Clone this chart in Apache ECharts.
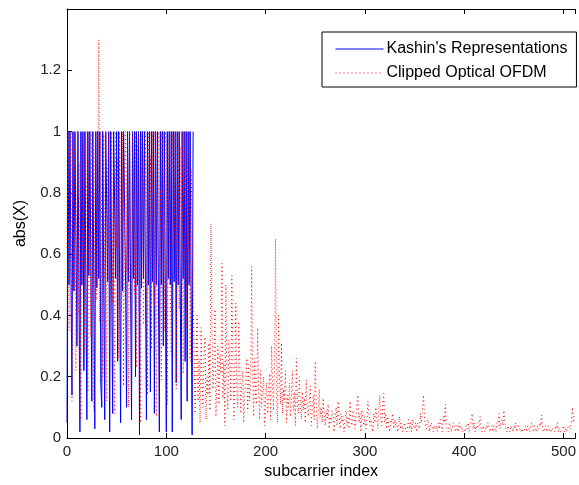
<!DOCTYPE html>
<html>
<head>
<meta charset="utf-8">
<script src="https://cdn.jsdelivr.net/npm/echarts@6/dist/echarts.min.js"></script>
<style>
html,body{margin:0;padding:0;background:#fff;overflow:hidden;}
#c{width:579px;height:485px;}
</style>
</head>
<body>
<div id="c"></div>
<script>
const seriesNames = ["Kashin's Representations", "Clipped Optical OFDM"];
const xTicks = [0, 100, 200, 300, 400, 500];
const yTicks = [0, 0.2, 0.4, 0.6, 0.8, 1, 1.2];

const kashin = [
0.05,1.00,0.50,1.00,0.52,0.14,1.00,0.48,1.00,1.00,0.30,1.00,0.51,0.02,1.00,0.50,
1.00,0.22,1.00,0.50,0.06,1.00,0.53,1.00,1.00,0.12,1.00,0.50,0.03,1.00,0.49,1.00,
0.52,1.00,0.18,0.10,1.00,0.50,0.06,1.00,1.00,0.51,1.00,0.02,1.00,0.50,0.08,1.00,
1.00,0.52,1.00,0.25,1.00,0.50,0.05,1.00,0.48,1.00,1.00,0.50,0.10,1.00,0.51,1.00,
0.50,0.06,1.00,0.52,1.00,0.20,1.00,0.50,1.00,0.01,1.00,0.49,1.00,0.52,1.00,0.50,
0.06,1.00,0.50,1.00,0.15,1.00,0.51,1.00,0.08,1.00,0.50,1.00,0.52,0.02,1.00,0.50,
1.00,0.30,1.00,0.50,0.02,1.00,0.52,1.00,0.50,1.00,0.02,1.00,0.51,1.00,0.18,1.00,
0.50,1.00,0.50,0.06,1.00,0.52,1.00,0.25,1.00,0.12,1.00,0.50,1.00,0.48,0.01,1.00
];

const clippedHead = [
0.62,1.00,0.35,0.88,1.00,0.12,0.95,0.48,1.00,0.22,0.78,1.00,0.40,0.90,0.06,1.00,
0.55,0.97,0.28,1.00,0.70,0.15,1.00,0.84,0.33,1.00,0.58,0.09,0.93,1.00,0.45,0.80,
1.30,0.38,1.00,0.66,0.20,0.99,0.52,1.00,0.12,0.87,1.00,0.30,0.74,1.00,0.44,0.95,
0.08,1.00,0.62,0.91,0.26,1.00,0.79,0.41,1.00,0.17,0.86,1.00,0.54,0.98,0.10,1.00,
0.68,0.32,1.00,0.89,0.47,1.00,0.23,0.94,1.00,0.60,0.05,1.00,0.83,0.37,0.97,1.00,
0.50,0.14,1.00,0.76,0.92,0.29,1.00,0.65,0.43,1.00,0.07,0.88,1.00,0.56,0.81,0.19,
1.00,0.72,0.35,1.00,0.96,0.11,0.85,1.00,0.48,0.27,1.00,0.90,0.63,1.00,0.16,0.82,
1.00,0.42,0.95,0.58,1.00,0.21,0.77,1.00,0.36,0.93,0.60,1.00,0.25,0.88,0.70,0.45
];

const clippedTail = [
0.30,0.08,0.22,0.40,0.12,0.26,0.05,0.36,0.18,0.10,0.28,0.33,0.06,0.20,0.14,0.31,
0.09,0.70,0.35,0.16,0.24,0.42,0.07,0.19,0.30,0.11,0.27,0.21,0.57,0.13,0.25,0.04,
0.50,0.18,0.09,0.32,0.23,0.12,0.53,0.28,0.06,0.20,0.44,0.15,0.10,0.38,0.24,0.08,
0.17,0.22,0.05,0.14,0.19,0.26,0.09,0.24,0.12,0.18,0.56,0.21,0.07,0.26,0.13,0.11,
0.36,0.16,0.06,0.22,0.10,0.15,0.20,0.04,0.12,0.18,0.08,0.14,0.21,0.06,0.30,0.17,
0.09,0.25,0.65,0.13,0.05,0.40,0.19,0.11,0.31,0.08,0.16,0.12,0.22,0.05,0.14,0.10,
0.18,0.07,0.13,0.22,0.09,0.15,0.04,0.26,0.12,0.08,0.20,0.11,0.06,0.15,0.09,0.13,
0.05,0.19,0.10,0.07,0.12,0.17,0.04,0.09,0.14,0.06,0.25,0.11,0.03,0.08,0.16,0.07,
0.10,0.05,0.13,0.08,0.04,0.09,0.06,0.11,0.03,0.07,0.05,0.09,0.08,0.02,0.06,0.10,
0.04,0.12,0.07,0.03,0.08,0.05,0.07,0.02,0.06,0.09,0.04,0.07,0.03,0.12,0.06,0.04,
0.09,0.08,0.03,0.06,0.11,0.14,0.05,0.08,0.02,0.09,0.06,0.04,0.07,0.03,0.05,0.12,
0.08,0.04,0.06,0.06,0.02,0.08,0.05,0.10,0.07,0.03,0.09,0.14,0.06,0.04,0.11,0.145,
0.05,0.08,0.03,0.07,0.04,0.02,0.06,0.05,0.08,0.03,0.06,0.04,0.05,0.02,0.04,0.07,
0.03,0.05,0.02,0.04,0.05,0.03,0.02,0.04,0.06,0.03,0.05,0.02,0.06,0.04,0.03,0.05,
0.02,0.05,0.04,0.03,0.08,0.05,0.10,0.14,0.07,0.04,0.03,0.06,0.05,0.02,0.04,0.05,
0.03,0.02,0.04,0.03,0.04,0.02,0.05,0.03,0.06,0.04,0.02,0.07,0.05,0.11,0.04,0.03,
0.02,0.05,0.04,0.02,0.03,0.05,0.04,0.02,0.03,0.04,0.02,0.05,0.03,0.04,0.02,0.03,
0.03,0.02,0.04,0.03,0.05,0.02,0.04,0.06,0.08,0.03,0.05,0.02,0.04,0.03,0.05,0.04,
0.07,0.03,0.02,0.04,0.03,0.02,0.04,0.03,0.05,0.05,0.02,0.03,0.04,0.02,0.04,0.03,
0.02,0.05,0.04,0.08,0.03,0.05,0.06,0.04,0.09,0.05,0.03,0.02,0.04,0.03,0.02,0.04,
0.03,0.02,0.04,0.03,0.05,0.02,0.03,0.04,0.03,0.02,0.03,0.02,0.02,0.03,0.04,0.02,
0.04,0.03,0.02,0.04,0.05,0.03,0.02,0.04,0.03,0.02,0.04,0.03,0.05,0.04,0.075,0.03,
0.02,0.03,0.04,0.02,0.03,0.04,0.02,0.03,0.02,0.03,0.03,0.02,0.04,0.03,0.05,0.02,
0.03,0.02,0.02,0.03,0.04,0.02,0.03,0.02,0.03,0.04,0.04,0.03,0.06,0.10,0.05,0.07
];

const clipped = clippedHead.concat(clippedTail);

const FONT = "'Liberation Sans', Arial, sans-serif";
const kashinData = kashin.map((v, i) => [i, v]);
const clippedData = clipped.map((v, i) => [i, v]);

const chart = echarts.init(document.getElementById('c'), null, {renderer: 'canvas'});
const axisLine = {show: true, onZero: false, lineStyle: {color: '#000', width: 1}};
const tick = {show: true, inside: true, length: 5, lineStyle: {color: '#000'}};
chart.setOption({
  animation: false,
  backgroundColor: '#fff',
  grid: {left: 67, top: 9, width: 513, height: 431, containLabel: false},
  legend: {
    orient: 'vertical',
    left: 322, top: 32,
    data: seriesNames,
    backgroundColor: '#fff',
    borderColor: '#000', borderWidth: 1, borderRadius: 0,
    padding: [9, 9, 6, 13],
    itemWidth: 48, itemHeight: 14, itemGap: 8,
    itemStyle: {opacity: 0},
    lineStyle: {width: 1},
    textStyle: {fontFamily: FONT, fontSize: 16, color: '#000', padding: [0, 0, 0, -2]}
  },
  xAxis: [{
    type: 'value', min: 0, max: 512, interval: 100, position: 'bottom',
    name: 'subcarrier index', nameLocation: 'middle', nameGap: 26,
    nameTextStyle: {fontFamily: FONT, fontSize: 16, color: '#000'},
    axisLine: axisLine, axisTick: tick, splitLine: {show: false},
    axisLabel: {fontFamily: FONT, fontSize: 15, color: '#222', margin: 6,
      formatter: v => xTicks.indexOf(v) >= 0 ? String(v) : ''}
  }, {
    type: 'value', min: 0, max: 512, interval: 100, position: 'top',
    axisLine: axisLine, axisTick: tick, splitLine: {show: false}, axisLabel: {show: false}
  }],
  yAxis: [{
    type: 'value', min: 0, max: 1.4, interval: 0.2, position: 'left',
    name: 'abs(X)', nameLocation: 'middle', nameGap: 38,
    nameTextStyle: {fontFamily: FONT, fontSize: 16, color: '#000'},
    axisLine: axisLine, axisTick: tick, splitLine: {show: false},
    axisLabel: {fontFamily: FONT, fontSize: 15, color: '#222', margin: 6,
      formatter: v => {
        const r = Math.round(v * 10) / 10;
        return yTicks.indexOf(r) >= 0 ? String(r) : '';
      }}
  }, {
    type: 'value', min: 0, max: 1.4, interval: 0.2, position: 'right', show: false
  }],
  series: [{
    name: seriesNames[0], type: 'line', data: kashinData,
    symbol: 'none', showSymbol: false,
    lineStyle: {color: '#0000ff', width: 1},
    itemStyle: {color: '#0000ff'}
  }, {
    name: seriesNames[1], type: 'line', data: clippedData,
    symbol: 'none', showSymbol: false,
    lineStyle: {color: '#ff0000', width: 1, type: [1, 3]},
    itemStyle: {color: '#ff0000'}
  }]
});
</script>
</body>
</html>
